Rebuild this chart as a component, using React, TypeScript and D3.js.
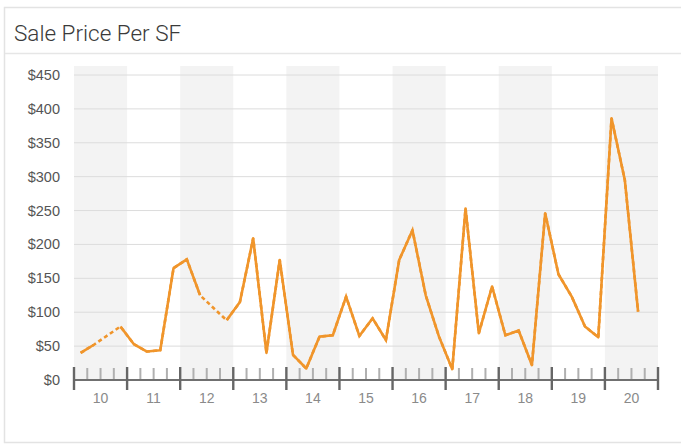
import React from "react";
import * as d3 from "d3";

// Quarterly sale price per SF, years 2010–2020 (null = no sales that quarter)
const years = ["10", "11", "12", "13", "14", "15", "16", "17", "18", "19", "20"];
const y10 = [40, 52, null, 79];
const y11 = [53, 42, 44, 165];
const y12 = [178, 125, null, 88];
const y13 = [115, 209, 40, 177];
const y14 = [37, 17, 64, 66];
const y15 = [123, 65, 91, 59];
const y16 = [177, 221, 125, 64];
const y17 = [16, 253, 69, 138];
const y18 = [66, 73, 22, 246];
const y19 = [156, 123, 79, 63];
const y20 = [386, 295, 101, null];
const yTicks = [0, 50, 100, 150, 200, 250, 300, 350, 400, 450];

const quarterly: (number | null)[] = [
  ...y10, ...y11, ...y12, ...y13, ...y14, ...y15, ...y16, ...y17, ...y18, ...y19, ...y20,
];

const W = 681;
const H = 445;
const plot = { left: 74, right: 658, top: 75, bottom: 380 };
const ORANGE = "#f0952b";
const FONT = "'Liberation Sans', Arial, Helvetica, sans-serif";

export default function App() {
  const nQ = years.length * 4;
  const x = d3.scaleLinear().domain([0, nQ]).range([plot.left, plot.right]);
  const y = d3.scaleLinear().domain([0, 450]).range([plot.bottom, plot.top]);

  const pts = quarterly.map((v, i) => ({ i, v }));
  const solid = d3
    .line<{ i: number; v: number | null }>()
    .defined((d) => d.v !== null)
    .x((d) => x(d.i + 0.5))
    .y((d) => y(d.v as number));
  const bridged = d3
    .line<{ i: number; v: number | null }>()
    .x((d) => x(d.i + 0.5))
    .y((d) => y(d.v as number));
  const present = pts.filter((d) => d.v !== null);

  const yearW = (plot.right - plot.left) / years.length;

  return (
    <svg
      width={W}
      height={H}
      style={{ position: "absolute", left: 0, top: 0, background: "#fff" }}
      fontFamily={FONT}
    >
      {/* card */}
      <rect x={4.5} y={7.5} width={W + 10} height={435} fill="#fff" stroke="#e3e3e3" strokeWidth={1.5} />
      <line x1={5} x2={W} y1={53.5} y2={53.5} stroke="#e6e6e6" strokeWidth={1.5} />
      <text x={14} y={41} fontSize={22.5} fontWeight={300} fill="#3a3a3a" fontFamily="Roboto, 'Liberation Sans', Arial, sans-serif">
        Sale Price Per SF
      </text>

      {/* alternating year bands */}
      {years.map((yr, k) =>
        k % 2 === 0 ? (
          <rect
            key={"band" + yr}
            x={x(k * 4)}
            y={66}
            width={x(k * 4 + 4) - x(k * 4)}
            height={plot.bottom - 66}
            fill="#f3f3f3"
          />
        ) : null
      )}

      {/* gridlines and y labels */}
      {yTicks.map((t) => (
        <g key={"gy" + t}>
          {t > 0 && (
            <line x1={plot.left} x2={plot.right} y1={y(t)} y2={y(t)} stroke="#dcdcdc" strokeWidth={1} />
          )}
          <text x={60} y={y(t) + 5} fontSize={14.5} fill="#555" textAnchor="end">
            {"$" + t}
          </text>
        </g>
      ))}

      {/* price line: solid where quarters are consecutive, dashed across gaps */}
      <path d={bridged(present) || ""} fill="none" stroke={ORANGE} strokeWidth={2.6} strokeDasharray="4,3" />
      <path d={solid(pts) || ""} fill="none" stroke={ORANGE} strokeWidth={2.6} strokeLinejoin="round" />

      {/* x axis */}
      <line x1={plot.left} x2={plot.right} y1={plot.bottom} y2={plot.bottom} stroke="#707070" strokeWidth={2} />
      {d3.range(nQ + 1).map((q) =>
        q % 4 === 0 ? (
          <line key={"tq" + q} x1={x(q)} x2={x(q)} y1={367} y2={390} stroke="#666" strokeWidth={2.4} />
        ) : (
          <line key={"tq" + q} x1={x(q)} x2={x(q)} y1={368} y2={379} stroke="#b0b0b0" strokeWidth={2} />
        )
      )}
      {years.map((yr, k) => (
        <text
          key={"xl" + yr}
          x={plot.left + yearW * (k + 0.5)}
          y={403}
          fontSize={14}
          fill="#8a8a8a"
          textAnchor="middle"
        >
          {yr}
        </text>
      ))}
    </svg>
  );
}
